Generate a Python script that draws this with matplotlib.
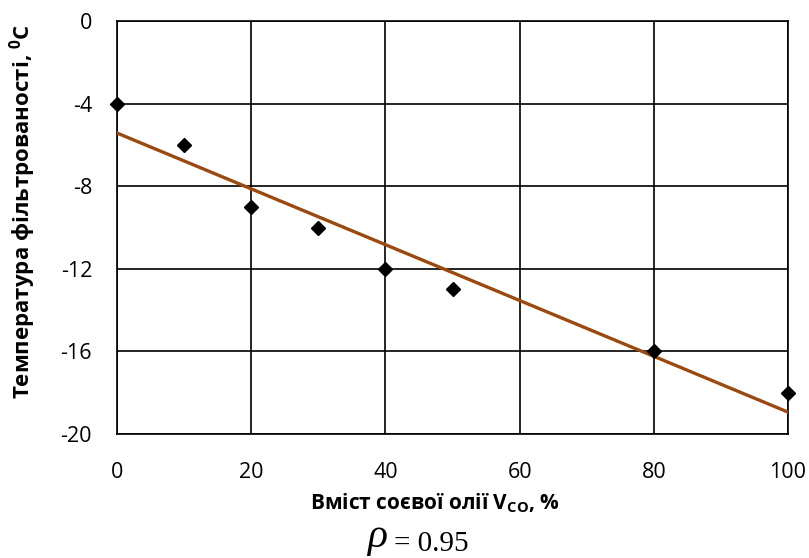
import matplotlib
matplotlib.use("Agg")
import matplotlib.pyplot as plt
import numpy as np

plt.rcParams['font.family'] = ['Open Sans', 'DejaVu Sans']
plt.rcParams['mathtext.fontset'] = 'custom'
plt.rcParams['mathtext.rm'] = 'Open Sans'
plt.rcParams['mathtext.bf'] = 'Open Sans:bold'
plt.rcParams['axes.unicode_minus'] = False

soy_content = [0, 10, 20, 30, 40, 50, 80, 100]
filter_temp = [-4, -6, -9, -10, -12, -13, -16, -18]
x_ticks = [0, 20, 40, 60, 80, 100]
y_ticks = [0, -4, -8, -12, -16, -20]

W, H = 809, 558
L, R, T, B = 117, 788, 21, 434
fig = plt.figure(figsize=(W / 100, H / 100), dpi=100)
ax = fig.add_axes([L / W, 1 - B / H, (R - L) / W, (B - T) / H])

coef = np.polyfit(soy_content, filter_temp, 1)
xs = np.array([0, 100])
ax.plot(xs, np.polyval(coef, xs), color='#9A4A10', lw=2.4, zorder=3)
ax.plot(soy_content, filter_temp, linestyle='none', marker='D', color='black',
        markersize=7, zorder=4, clip_on=False)

ax.set_xlim(0, 100)
ax.set_ylim(-20, 0)
ax.set_xticks(x_ticks)
ax.set_yticks(y_ticks)
ax.grid(True, color='black', lw=1.2)
ax.set_axisbelow(True)
for s in ax.spines.values():
    s.set_color('black')
    s.set_linewidth(1.2)
ax.tick_params(axis='y', length=0, labelsize=15.5, pad=18)
ax.tick_params(axis='x', length=0, labelsize=15.5, pad=20)

ax.set_xlabel(r'Вміст соєвої олії V$_{\mathbf{CO}}$, %', fontsize=15,
              fontweight='bold', va='center')
ax.xaxis.set_label_coords((435 - L) / (R - L), -(503 - B) / (B - T))
ax.set_ylabel(r'Температура фільтрованості, $^{\mathbf{0}}$C', fontsize=16,
              fontweight='bold', va='center')
ax.yaxis.set_label_coords(-(L - 23) / (R - L), 1 - (211 - T) / (B - T))

fig.text(387 / W, 11 / H, 'ρ', fontsize=30, family='Liberation Serif',
         style='italic', ha='right', va='baseline')
fig.text(394 / W, 7 / H, '= 0.95', fontsize=21, family='Liberation Serif',
         ha='left', va='baseline')

fig.savefig('out.png', dpi=100)
